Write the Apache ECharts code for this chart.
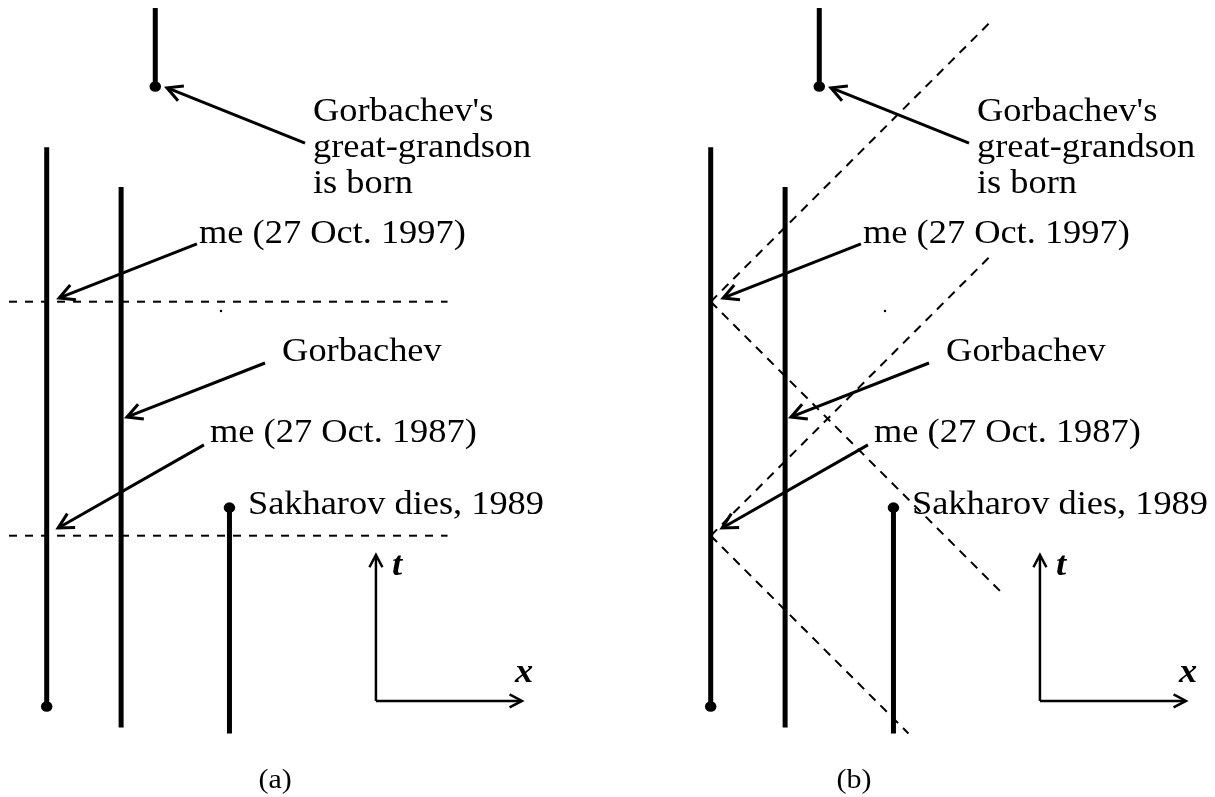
<!DOCTYPE html>
<html><head><meta charset="utf-8">
<script src="https://cdn.jsdelivr.net/npm/echarts@6/dist/echarts.min.js"></script>
<style>html,body{margin:0;padding:0;background:#fff}#c{width:1215px;height:797px}</style>
</head><body><div id="c"></div>
<script>
// ---------- DATA (x in light-years relative to "me", t in years) ----------
// worldline segments: [x1, t1, x2, t2]
const meWorldline          = [0.00, 1979.70, 0.00, 2003.60];
const gorbachevWorldline   = [3.18, 1978.80, 3.18, 2001.90];
const greatGrandsonLine    = [4.64, 2006.20, 4.64, 2009.55];
const sakharovWorldline    = [7.81, 1978.55, 7.81, 1988.20];
// events drawn as dots: [x, t]
const eventDots = [[0.00, 1979.70], [4.64, 2006.20], [7.81, 1988.20]];
const strayDot  = [[7.45, 1996.60]];
// panel (a): lines of simultaneity
const simultaneityTimes = [1987, 1997];
const simultaneityXRange = [-1.61, 17.13];
// panel (b): light cones from the two "me" events: [x1, t1, x2, t2]
const lightConeRays = [
  [0, 1997, 12.00, 2009.00],
  [0, 1997, 12.50, 1984.50],
  [0, 1987, 11.90, 1998.90],
  [0, 1987,  8.45, 1978.55]
];
// pointer arrows: tail -> tip  [x1, t1, x2, t2]
const pointerArrows = [
  [11.04, 2003.78, 5.14, 2006.14],
  [ 6.42, 1999.47, 0.53, 1997.16],
  [ 9.33, 1994.38, 3.43, 1992.07],
  [ 6.72, 1990.88, 0.49, 1987.33]
];
// annotation texts and their baseline anchors [x, t]
const labelTexts = ["Gorbachev's", "great-grandson", "is born",
  "me (27 Oct. 1997)", "Gorbachev", "me (27 Oct. 1987)", "Sakharov dies, 1989"];
const labelAnchors = [[11.38, 2004.60], [11.38, 2003.06], [11.38, 2001.52],
  [6.51, 1999.38], [10.06, 1994.34], [6.98, 1990.88], [8.60, 1987.81]];
// coordinate-frame indicator
const frameOrigin = [14.07, 1979.94];
const frameTEnd   = [14.07, 1986.18];
const frameXEnd   = [20.31, 1979.94];
const frameLabels = ["t", "x"];
const frameLabelAnchors = [[14.76, 1985.19], [20.01, 1980.62]];
// panel captions
const panelCaptions = ["(a)", "(b)"];
const panelCaptionAnchors = [[9.76, 1976.13], [6.12, 1976.13]];

// ---------- LAYOUT ----------
const S = 23.4;                 // px per unit (same on both axes)
const X_MIN = -1.9, X_MAX = 21, T_MIN = 1976, T_MAX = 2009.8;
const ORIGIN_PX = [46.7, 710.7]; // pixel x of x=0 per panel
const REF_T = 1997, REF_T_PX = 301.7;
const FONT = '"Liberation Serif","Times New Roman",serif';
const FS = 34;
const TEXT_STRETCH = 1.07;       // the original figure's type is slightly wide

function gridFor(i) {
  return {
    left: ORIGIN_PX[i] + X_MIN * S,
    top: REF_T_PX - (T_MAX - REF_T) * S,
    width: (X_MAX - X_MIN) * S,
    height: (T_MAX - T_MIN) * S,
    containLabel: false, show: false
  };
}
function segSeries(g, rows, style) {
  return {
    type: 'custom', xAxisIndex: g, yAxisIndex: g, silent: true,
    dimensions: ['x1', 't1', 'x2', 't2'],
    encode: { x: [0, 2], y: [1, 3] },
    data: rows,
    renderItem: function (params, api) {
      const a = api.coord([api.value(0), api.value(1)]);
      const b = api.coord([api.value(2), api.value(3)]);
      return { type: 'line', shape: { x1: a[0], y1: a[1], x2: b[0], y2: b[1] },
        style: Object.assign({ stroke: '#000', lineCap: 'butt' }, style) };
    }
  };
}
function arrowSeries(g, rows, width, head) {
  return {
    type: 'custom', xAxisIndex: g, yAxisIndex: g, silent: true,
    dimensions: ['x1', 't1', 'x2', 't2'],
    encode: { x: [0, 2], y: [1, 3] },
    data: rows,
    renderItem: function (params, api) {
      const a = api.coord([api.value(0), api.value(1)]);
      const b = api.coord([api.value(2), api.value(3)]);
      const ang = Math.atan2(b[1] - a[1], b[0] - a[0]);
      const w = Math.PI / 6.5;
      const p1 = [b[0] - head * Math.cos(ang - w), b[1] - head * Math.sin(ang - w)];
      const p2 = [b[0] - head * Math.cos(ang + w), b[1] - head * Math.sin(ang + w)];
      const st = { stroke: '#000', lineWidth: width, fill: null, lineCap: 'butt', lineJoin: 'miter' };
      return { type: 'group', children: [
        { type: 'line', shape: { x1: a[0], y1: a[1], x2: b[0] - Math.cos(ang), y2: b[1] - Math.sin(ang) }, style: st },
        { type: 'polyline', shape: { points: [p1, b, p2] }, style: st }
      ] };
    }
  };
}
function textSeries(g, anchors, texts, font, size, align) {
  return {
    type: 'custom', xAxisIndex: g, yAxisIndex: g, silent: true,
    data: anchors,
    renderItem: function (params, api) {
      const p = api.coord([api.value(0), api.value(1)]);
      return { type: 'text', x: p[0], y: p[1] - size * 0.34,
        scaleX: TEXT_STRETCH, scaleY: 1,
        style: { text: texts[params.dataIndex], fill: '#000', font: font,
          align: align || 'left', verticalAlign: 'middle' } };
    }
  };
}
function dotSeries(g, rows, size) {
  return { type: 'scatter', xAxisIndex: g, yAxisIndex: g, silent: true,
    symbol: 'circle', symbolSize: size, itemStyle: { color: '#000', opacity: 1 }, data: rows };
}

const worldlines = [meWorldline, gorbachevWorldline, greatGrandsonLine, sakharovWorldline];
const series = [];
for (let g = 0; g < 2; g++) {
  if (g === 0) {
    series.push(segSeries(g, simultaneityTimes.map(t => [simultaneityXRange[0], t, simultaneityXRange[1], t]),
      { lineWidth: 2, lineDash: [8, 8] }));
  } else {
    series.push(segSeries(g, lightConeRays, { lineWidth: 2, lineDash: [9, 7] }));
  }
  series.push(segSeries(g, worldlines, { lineWidth: 5 }));
  series.push(dotSeries(g, eventDots, [11.5, 10.5]));
  series.push(dotSeries(g, strayDot, 2.5));
  series.push(arrowSeries(g, pointerArrows, 3, 17));
  series.push(arrowSeries(g, [[frameOrigin[0], frameOrigin[1], frameTEnd[0], frameTEnd[1]],
                              [frameOrigin[0], frameOrigin[1], frameXEnd[0], frameXEnd[1]]], 2.5, 14));
  series.push(textSeries(g, labelAnchors, labelTexts, FS + 'px ' + FONT, FS));
  series.push(textSeries(g, frameLabelAnchors, frameLabels, 'italic bold ' + FS + 'px ' + FONT, FS));
  series.push(textSeries(g, [panelCaptionAnchors[g]], [panelCaptions[g]], '28px ' + FONT, 28, 'center'));
}

const chart = echarts.init(document.getElementById('c'), null, { renderer: 'canvas' });
chart.setOption({
  animation: false,
  backgroundColor: '#fff',
  grid: [gridFor(0), gridFor(1)],
  xAxis: [0, 1].map(i => ({ type: 'value', gridIndex: i, min: X_MIN, max: X_MAX, show: false })),
  yAxis: [0, 1].map(i => ({ type: 'value', gridIndex: i, min: T_MIN, max: T_MAX, show: false })),
  series: series
});
</script></body></html>
